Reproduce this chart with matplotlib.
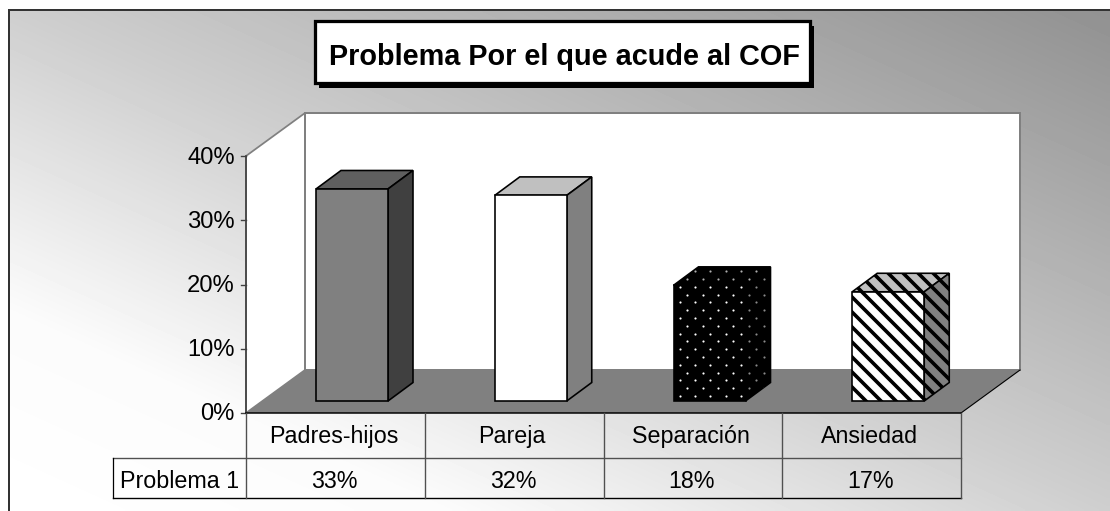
import numpy as np
import matplotlib
matplotlib.use("Agg")
import matplotlib.pyplot as plt
from matplotlib.patches import Polygon, Rectangle

categories = ["Padres-hijos", "Pareja", "Separación", "Ansiedad"]
values = [33, 32, 18, 17]
series_name = "Problema 1"
y_ticks = [0, 10, 20, 30, 40]
title = "Problema Por el que acude al COF"

W, H, DPI = 1110, 511, 90
plt.rcParams["font.family"] = ["Liberation Sans", "DejaVu Sans"]
plt.rcParams["hatch.linewidth"] = 2.9
fig = plt.figure(figsize=(W / DPI, H / DPI), dpi=DPI, facecolor="white")

# Background panel with a diagonal gradient (dark top right, white bottom left)
bg = fig.add_axes([9 / W, 0, (W - 9) / W, (H - 10) / H])
u, v = np.meshgrid(np.linspace(0, 1, 300), np.linspace(0, 1, 150))
s = (v - u + 1) / 2
shade = np.interp(s, [0, 0.5, 0.8, 1], [0.57, 0.81, 0.985, 1.0])
bg.imshow(shade, cmap="gray", vmin=0, vmax=1, aspect="auto", interpolation="bilinear",
          extent=[0, 1, 0, 1])
bg.set_xticks([]); bg.set_yticks([])
for sp in ("right", "bottom"):
    bg.spines[sp].set_visible(False)
for sp in ("top", "left"):
    bg.spines[sp].set_color("#333333"); bg.spines[sp].set_linewidth(1.6)

# Main axes: x in category slots, y in percent, mapped onto the pixel grid
X0, SLOT, Y0, UNIT = 246.0, 178.75, 413.0, 6.425
ax = fig.add_axes([0, 0, 1, 1], facecolor="none")
ax.set_xlim(-X0 / SLOT, (W - X0) / SLOT)
ax.set_ylim((Y0 - H) / UNIT, Y0 / UNIT)
ax.axis("off")
dx = lambda p: p / SLOT
dy = lambda p: p / UNIT
n = len(categories)
ymax = y_ticks[-1]
DX, DY = dx(59), dy(43)

# Walls and floor
ax.add_patch(Polygon([(0, 0), (DX, DY), (DX, ymax + DY), (0, ymax)], fc="white", ec="#808080", lw=1.4))
ax.add_patch(Polygon([(DX, DY), (n + DX, DY), (n + DX, ymax + DY), (DX, ymax + DY)], fc="white", ec="#808080", lw=1.6))
ax.add_patch(Polygon([(0, 0), (n, 0), (n + DX, DY), (DX, DY)], fc="#808080", ec="none"))
ax.plot([n, n + DX], [0, DY], color="black", lw=0.9)

# Bars
bw, bx, base = dx(72), dx(70), dy(12)
ddx, ddy = dx(25), dy(18.5)
styles = [
    dict(front="#808080", top="#5f5f5f", side="#404040", hatch=None),
    dict(front="white", top="#c0c0c0", side="#808080", hatch=None),
    dict(front="black", top="black", side="black", hatch=None),
    dict(front="white", top="#c0c0c0", side="#808080", hatch="\\\\"),
]
for i, (val, st) in enumerate(zip(values, styles)):
    l, r, t = i + bx, i + bx + bw, base + val
    faces = [
        ([(l, t), (r, t), (r + ddx, t + ddy), (l + ddx, t + ddy)], st["top"]),
        ([(r, base), (r + ddx, base + ddy), (r + ddx, t + ddy), (r, t)], st["side"]),
        ([(l, base), (r, base), (r, t), (l, t)], st["front"]),
    ]
    for pts, col in faces:
        ax.add_patch(Polygon(pts, fc=col, ec="black", lw=1.3, hatch=st["hatch"], joinstyle="miter", zorder=3))
    if i == 2:  # dotted texture on the black bar
        for pts, col in [(faces[2][0], "white"), (faces[1][0], "#8a8a8a"), (faces[0][0], "#b0b0b0")]:
            clip = Polygon(pts, transform=ax.transData, fc="none", ec="none")
            ax.add_patch(clip)
            rows = np.arange(0, (t + ddy - base) / dy(7.8))
            for k in rows:
                xs = np.arange(l + dx(6 + (k % 2) * 7.7), r + ddx, dx(15.4))
                sc = ax.scatter(xs, np.full_like(xs, base + dy(5) + k * dy(7.8)), s=3.0, c=col, lw=0, zorder=4)
                sc.set_clip_path(clip)

# Value axis
ax.plot([0, 0], [0, ymax], color="#404040", lw=1.3, zorder=5)
for tk in y_ticks:
    ax.plot([-dx(5), 0], [tk, tk], color="#404040", lw=1.1, zorder=5)
    ax.text(-dx(11), tk - dy(1.5), f"{tk}%", ha="right", va="center", fontsize=19.0, color="black")

# Data table
R1, R2 = -dy(45), -dy(85)
L = -dx(133)
ax.plot([0, n], [0, 0], color="black", lw=1.2, zorder=5)
ax.plot([L, n], [R1, R1], color="#505050", lw=1.1, zorder=5)
ax.plot([L, n], [R2, R2], color="black", lw=1.1, zorder=5)
ax.plot([L, L], [R1, R2], color="black", lw=1.0, zorder=5)
for i in range(n + 1):
    ax.plot([i, i], [0, R2], color="#505050", lw=1.1, zorder=5)
for i, (c, val) in enumerate(zip(categories, values)):
    ax.text(i + 0.5 - dx(2), R1 / 2 - dy(1), c, ha="center", va="center", fontsize=18.6)
    ax.text(i + 0.5 - dx(1), (R1 + R2) / 2 - dy(3), f"{val}%", ha="center", va="center", fontsize=18.6)
ax.text(L / 2, (R1 + R2) / 2 - dy(3), series_name, ha="center", va="center", fontsize=18.6)

# Title box with drop shadow
bl, br = (315 - X0) / SLOT, (810 - X0) / SLOT
bb, bt = (Y0 - 83) / UNIT, (Y0 - 21) / UNIT
ax.add_patch(Rectangle((bl + dx(4), bb - dy(5)), br - bl, bt - bb, fc="black", ec="none", zorder=6))
ax.add_patch(Rectangle((bl, bb), br - bl, bt - bb, fc="white", ec="black", lw=2.6, zorder=7))
ax.text((bl + br) / 2 + dx(2), (bb + bt) / 2 - dy(5), title, ha="center", va="center", fontsize=23.1,
        fontweight="bold", zorder=8)

fig.savefig("out.png", dpi=DPI)
